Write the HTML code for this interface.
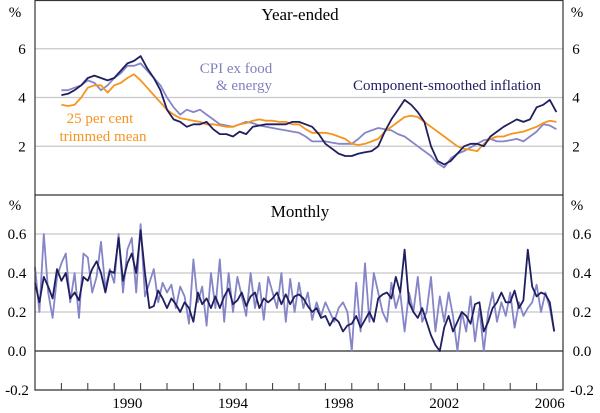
<!DOCTYPE html>
<html><head><meta charset="utf-8"><style>
body{margin:0;background:#fff}
svg{display:block;font-family:"Liberation Serif",serif}
</style></head><body>
<svg id="c" width="600" height="413" viewBox="0 0 600 413"></svg>
<script>
const yearStart = 1987, yearEnd = 2007;
const qStart = 1988.0;
const componentYE = [4.1,4.15,4.3,4.5,4.8,4.9,4.8,4.7,4.8,5.1,5.4,5.5,5.7,5.2,4.8,4.3,3.5,3.1,3.0,2.8,2.9,2.9,3.0,2.7,2.5,2.5,2.4,2.6,2.5,2.8,2.85,2.9,2.9,2.9,2.9,3.0,3.0,2.9,2.8,2.5,2.1,1.9,1.7,1.6,1.6,1.7,1.75,1.8,2.0,2.6,3.1,3.5,3.9,3.7,3.4,3.0,2.0,1.4,1.25,1.4,1.7,2.0,2.1,2.1,2.0,2.4,2.6,2.8,2.95,3.1,3.0,3.1,3.6,3.7,3.9,3.4];
const trimmedYE = [3.7,3.65,3.7,4.0,4.4,4.5,4.5,4.2,4.5,4.6,4.8,4.95,4.7,4.4,4.1,3.8,3.5,3.3,3.15,3.1,3.05,3.0,2.9,2.9,2.85,2.8,2.8,2.9,2.95,3.05,3.1,3.05,3.05,3.0,3.0,2.9,2.9,2.7,2.55,2.55,2.55,2.5,2.4,2.3,2.1,2.05,2.1,2.2,2.3,2.6,2.8,3.0,3.2,3.25,3.2,3.0,2.8,2.6,2.4,2.2,2.0,1.9,1.85,1.8,2.1,2.3,2.4,2.4,2.5,2.55,2.6,2.7,2.8,2.95,3.05,3.0];
const cpiExYE = [4.3,4.3,4.4,4.5,4.7,4.6,4.3,4.5,4.8,5.0,5.3,5.3,5.4,5.1,4.8,4.5,4.0,3.6,3.3,3.5,3.4,3.5,3.3,3.1,2.9,2.85,2.8,2.9,3.0,2.95,2.85,2.8,2.75,2.7,2.65,2.6,2.55,2.4,2.2,2.2,2.2,2.15,2.1,2.1,2.1,2.3,2.55,2.65,2.75,2.7,2.65,2.5,2.4,2.2,2.0,1.8,1.6,1.3,1.13,1.5,1.7,1.8,1.95,2.1,2.25,2.3,2.2,2.2,2.25,2.3,2.2,2.4,2.6,2.9,2.85,2.7];
const mStart = 1987.0, mStep = 1/6;
const componentM = [.35,.25,.38,.33,.27,.42, .36,.40,.27,.30,.26,.38, .36,.42,.46,.40,.30,.41, .40,.58,.36,.45,.50,.40, .62,.40,.22,.23,.31,.27, .22,.27,.24,.20,.25,.22, .15,.30,.24,.27,.22,.28, .22,.28,.32,.24,.26,.30, .23,.28,.30,.22,.27,.25, .27,.30,.24,.29,.24,.28, .29,.27,.23,.20,.22,.17, .18,.13,.17,.15,.10,.13, .14,.18,.12,.16,.20,.15, .27,.29,.30,.27,.38,.30, .52,.25,.20,.17,.22,.15, .08,.03,.0,.12,.18,.10, .15,.20,.18,.14,.24,.25, .10,.15,.22,.25,.30,.25, .25,.31,.22,.26,.52,.33, .28,.30,.29,.25,.10];
const cpiExM = [.43,.20,.60,.30,.17,.38, .45,.50,.25,.40,.17,.50, .48,.30,.38,.56,.32,.42, .35,.60,.30,.52,.58,.30, .65,.28,.35,.42,.25,.35, .30,.34,.22,.33,.28,.14, .47,.25,.33,.13,.40,.22, .47,.15,.40,.20,.38,.28, .18,.40,.22,.35,.16,.38, .30,.22,.40,.15,.37,.20, .35,.22,.30,.16,.25,.18, .25,.20,.15,.22,.25,.20, .0,.35,.10,.45,.15,.40, .30,.20,.15,.35,.22,.30, .10,.30,.20,.38,.15,.20, .38,.10,.28,.15,.30,.18, .0,.20,.10,.28,.05,.22, .0,.20,.30,.15,.25,.18, .30,.12,.25,.18,.22,.25, .34,.20,.30,.22,.10];
const topTicks = [2,4,6];
const botTicks = [-0.2,0.0,0.2,0.4,0.6];
const xLabels = [1990,1994,1998,2002,2006];

const L=35,R=563,T=0,MID=195,B=390;
const X=y=>L+(y-yearStart)/(yearEnd-yearStart)*(R-L);
const YT=v=>MID-(v/8)*(MID-T);
const YB=v=>B-(v+0.2)/1.0*(B-MID);
const svg=document.getElementById('c');
const NS='http://www.w3.org/2000/svg';
function mk(tag,attrs,name,parent){const e=document.createElementNS(NS,tag);for(const k in attrs)e.setAttribute(k,attrs[k]);


(parent||svg).appendChild(e);return e;}
function txt(s,x,y,anchor,size,fill,name){const t=mk('text',{x:x,y:y,'text-anchor':anchor,'font-size':size,fill:fill},name);t.textContent=s;return t;}

topTicks.forEach(v=>{mk('line',{x1:L,x2:R,y1:YT(v),y2:YT(v),stroke:'#c8c8c8','stroke-width':1.3},'top-gridline');
txt(v,22,YT(v)+5,'middle',15,'#000','top-left-tick-label');txt(v,576,YT(v)+5,'middle',15,'#000','top-right-tick-label');});
botTicks.forEach(v=>{const zero=v===0;mk('line',{x1:L,x2:R,y1:YB(v),y2:YB(v),stroke:zero?'#666':'#c8c8c8','stroke-width':zero?1.8:1.3},zero?'zero-line':'bottom-gridline');
const s=v.toFixed(1);txt(s,17,YB(v)+5,'middle',15,'#000','bottom-left-tick-label');txt(s,582,YB(v)+5,'middle',15,'#000','bottom-right-tick-label');});
txt('%',15,17,'middle',15,'#000','top-left-unit');txt('%',577,17,'middle',15,'#000','top-right-unit');
txt('%',15,210,'middle',15,'#000','bottom-left-unit');txt('%',577,210,'middle',15,'#000','bottom-right-unit');
for(let y=1988;y<=2006;y++){mk('line',{x1:X(y),x2:X(y),y1:B,y2:B-7,stroke:'#333','stroke-width':1},'x-tick');}
xLabels.forEach(y=>txt(y,X(y+0.5),408,'middle',15,'#000','x-tick-label'));

function line(arr,start,step,yf,color,w,name){const d=arr.map((v,i)=>(i?'L':'M')+X(start+i*step).toFixed(1)+','+yf(v).toFixed(1)).join('');
mk('path',{d:d,fill:'none',stroke:color,'stroke-width':w,'stroke-linejoin':'round'},name);}
line(cpiExYE,qStart,0.25,YT,'#8585c8',1.8,'cpi-ex-food-energy-line');
line(trimmedYE,qStart,0.25,YT,'#f7941d',1.8,'trimmed-mean-line');
line(componentYE,qStart,0.25,YT,'#1f1f60',1.8,'component-smoothed-line');
line(cpiExM,mStart,mStep,YB,'#8585c8',1.8,'cpi-ex-monthly-line');
line(componentM,mStart,mStep,YB,'#1f1f60',1.8,'component-smoothed-monthly-line');

mk('rect',{x:L,y:T+0.5,width:R-L,height:B-T-0.5,fill:'none',stroke:'#333','stroke-width':1.2},'plot-frame');
mk('line',{x1:L,x2:R,y1:MID,y2:MID,stroke:'#333','stroke-width':1.2},'panel-divider');
txt('Year-ended',300,20,'middle',17,'#000','top-panel-title');
txt('Monthly',300,217,'middle',17,'#000','bottom-panel-title');
txt('CPI ex food',236,73,'middle',15,'#8080c0','cpi-label-1');
txt('& energy',244,90,'middle',15,'#8080c0','cpi-label-2');
txt('25 per cent',100,123,'middle',15,'#f7941d','trimmed-label-1');
txt('trimmed mean',103,141,'middle',15,'#f7941d','trimmed-label-2');
txt('Component-smoothed inflation',447,90,'middle',15,'#1f1f60','component-label');
</script>
</body></html>
